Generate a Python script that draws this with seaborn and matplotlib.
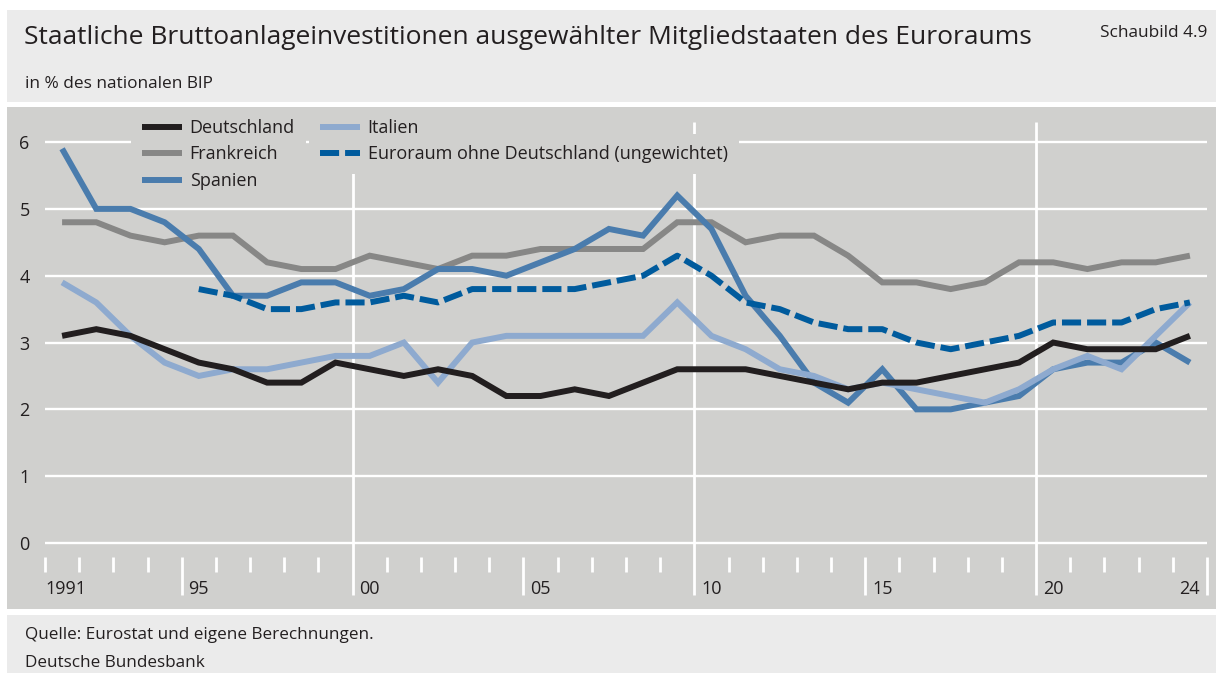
import matplotlib
matplotlib.use("Agg")
import matplotlib.pyplot as plt
from matplotlib.patches import Rectangle
from matplotlib.transforms import Bbox
import seaborn as sns
import pandas as pd

# data (% of GDP)
years = list(range(1991, 2025))
deutschland = [3.1, 3.2, 3.1, 2.9, 2.7, 2.6, 2.4, 2.4, 2.7, 2.6, 2.5, 2.6, 2.5, 2.2, 2.2, 2.3, 2.2,
               2.4, 2.6, 2.6, 2.6, 2.5, 2.4, 2.3, 2.4, 2.4, 2.5, 2.6, 2.7, 3.0, 2.9, 2.9, 2.9, 3.1]
frankreich = [4.8, 4.8, 4.6, 4.5, 4.6, 4.6, 4.2, 4.1, 4.1, 4.3, 4.2, 4.1, 4.3, 4.3, 4.4, 4.4, 4.4,
              4.4, 4.8, 4.8, 4.5, 4.6, 4.6, 4.3, 3.9, 3.9, 3.8, 3.9, 4.2, 4.2, 4.1, 4.2, 4.2, 4.3]
spanien = [5.9, 5.0, 5.0, 4.8, 4.4, 3.7, 3.7, 3.9, 3.9, 3.7, 3.8, 4.1, 4.1, 4.0, 4.2, 4.4, 4.7,
           4.6, 5.2, 4.7, 3.7, 3.1, 2.4, 2.1, 2.6, 2.0, 2.0, 2.1, 2.2, 2.6, 2.7, 2.7, 3.0, 2.7]
italien = [3.9, 3.6, 3.1, 2.7, 2.5, 2.6, 2.6, 2.7, 2.8, 2.8, 3.0, 2.4, 3.0, 3.1, 3.1, 3.1, 3.1,
           3.1, 3.6, 3.1, 2.9, 2.6, 2.5, 2.3, 2.4, 2.3, 2.2, 2.1, 2.3, 2.6, 2.8, 2.6, 3.1, 3.6]
euro_years = list(range(1995, 2025))
euroraum = [3.8, 3.7, 3.5, 3.5, 3.6, 3.6, 3.7, 3.6, 3.8, 3.8, 3.8, 3.8, 3.9, 4.0, 4.3, 4.0, 3.6,
            3.5, 3.3, 3.2, 3.2, 3.0, 2.9, 3.0, 3.1, 3.3, 3.3, 3.3, 3.5, 3.6]

xtick_years = [1991, 1995, 2000, 2005, 2010, 2015, 2020]
xtick_labels = ["1991", "95", "00", "05", "10", "15", "20"]
last_label = "24"

W, H = 1216, 673
TXT = "#231f20"
PANEL = "#d0d0ce"
LIGHT = "#ebebeb"

sns.set_theme(style="white")
plt.rcParams["font.family"] = ["Open Sans", "DejaVu Sans"]

fig = plt.figure(figsize=(W / 100, H / 100), dpi=100, facecolor="white")

# background boxes
fig.patches.append(Rectangle((7 / W, 1 - 102 / H), 1, 92 / H, transform=fig.transFigure,
                             facecolor=LIGHT, edgecolor="none", zorder=-10))
fig.patches.append(Rectangle((7 / W, 1 - 609 / H), 1, 502 / H, transform=fig.transFigure,
                             facecolor=PANEL, edgecolor="none", zorder=-10))
fig.patches.append(Rectangle((7 / W, 0), 1, 58 / H, transform=fig.transFigure,
                             facecolor=LIGHT, edgecolor="none", zorder=-10))

fig.text(24 / W, 1 - 38 / H, "Staatliche Bruttoanlageinvestitionen ausgewählter Mitgliedstaaten des Euroraums",
         fontsize=19, color=TXT, va="center", ha="left")
fig.text(1207 / W, 1 - 33 / H, "Schaubild 4.9", fontsize=12.4, color=TXT, va="center", ha="right")
fig.text(25 / W, 1 - 84 / H, "in % des nationalen BIP", fontsize=12.4, color=TXT, va="center", ha="left")
fig.text(25 / W, 1 - 635 / H, "Quelle: Eurostat und eigene Berechnungen.", fontsize=12.3, color=TXT,
         va="center", ha="left")
fig.text(25 / W, 1 - 663 / H, "Deutsche Bundesbank", fontsize=12.3, color=TXT, va="center", ha="left")

ax = fig.add_axes([45 / W, 73 / H, 1162 / W, 488 / H])
ax.set_facecolor("none")
for s in ax.spines.values():
    s.set_visible(False)
ax.set_xlim(1991, 2025)
ax.set_ylim(-0.853, 6.45)

# grid
for v in range(7):
    ax.axhline(v, color="white", lw=1.7, zorder=1)
for yr in [2000, 2010, 2020]:
    ax.vlines(yr, -0.78, 6.30, color="white", lw=2.0, zorder=1, clip_on=False)
for yr in range(1991, 2026):
    if yr in (2000, 2010, 2020):
        continue
    low = -0.78 if yr % 5 == 0 else -0.43
    ax.vlines(yr, -0.21, low, color="white", lw=2.0, zorder=1, clip_on=False)

ax.set_yticks(range(7))
ax.set_yticklabels([str(v) for v in range(7)])
ax.tick_params(axis="y", length=0, pad=11, labelsize=13, labelcolor=TXT)
ax.set_xticks([])
for yr, lab in zip(xtick_years, xtick_labels):
    off = 0.0 if yr == 1991 else 0.2
    ax.text(yr + off, -0.69, lab, ha="left", va="center", fontsize=13, color=TXT)
ax.text(2024.5, -0.69, last_label, ha="center", va="center", fontsize=13, color=TXT)

series = [
    ("Frankreich", years, frankreich, "#878786", "-"),
    ("Spanien", years, spanien, "#4a7cad", "-"),
    ("Italien", years, italien, "#8eaacf", "-"),
    ("Deutschland", years, deutschland, "#221e1f", "-"),
    ("Euroraum ohne Deutschland (ungewichtet)", euro_years, euroraum, "#005b9d", (0, (3.2, 1.0))),
]
lines = {}
for name, xs, ys, col, ls in series:
    df = pd.DataFrame({"x": [x + 0.5 for x in xs], "y": ys})
    sns.lineplot(data=df, x="x", y="y", ax=ax, color=col, lw=4.3, linestyle=ls,
                 solid_capstyle="butt", solid_joinstyle="miter", dash_capstyle="butt",
                 zorder=3, legend=False)
    lines[name] = ax.lines[-1]
ax.set_xlabel("")
ax.set_ylabel("")

order = ["Deutschland", "Frankreich", "Spanien", "Italien", "Euroraum ohne Deutschland (ungewichtet)"]
leg = ax.legend([lines[n] for n in order], order, ncol=2, frameon=False, fontsize=13,
                handlelength=2.2, handletextpad=0.44, columnspacing=1.4, labelspacing=0.47,
                borderpad=0, borderaxespad=0, loc="upper left",
                bbox_to_anchor=(142 / W, 1 - 119 / H), bbox_transform=fig.transFigure)
for t in leg.get_texts():
    t.set_color(TXT)
leg.set_zorder(5)

# mask the grid behind each legend entry
fig.canvas.draw()
r = fig.canvas.get_renderer()
inv = fig.transFigure.inverted()
top = fig.transFigure.transform((0, 1 - 108 / H))[1]
for h, t in zip(leg.legend_handles, leg.get_texts()):
    bb = Bbox.union([h.get_window_extent(r), t.get_window_extent(r)]).padded(11)
    (x0, y0), (x1, y1) = inv.transform([[bb.x0, bb.y0], [bb.x1, min(bb.y1, top)]])
    ax.add_patch(Rectangle((x0, y0), x1 - x0, y1 - y0, transform=fig.transFigure,
                           facecolor=PANEL, edgecolor="none", zorder=1.5, clip_on=False))

fig.savefig("out.png", dpi=100, facecolor="white")
